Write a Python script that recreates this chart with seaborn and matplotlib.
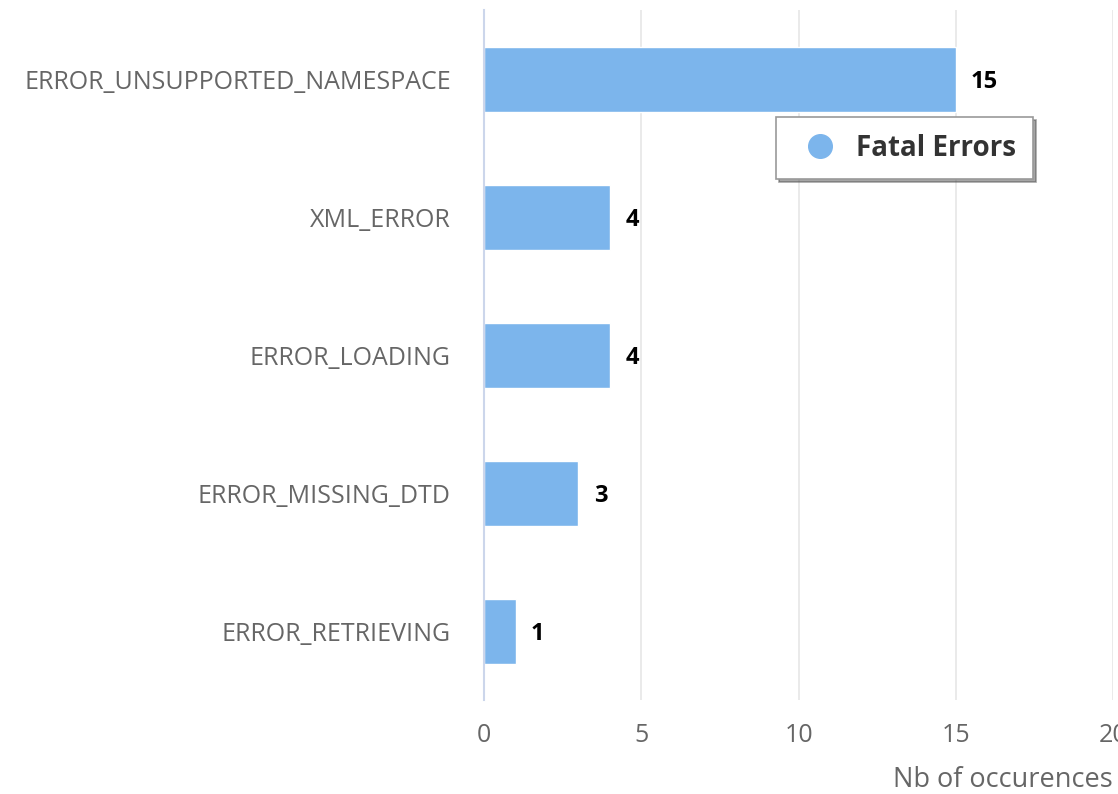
import pandas as pd
import matplotlib
matplotlib.use('Agg')
import matplotlib.pyplot as plt
import seaborn as sns
from matplotlib.lines import Line2D

# Data
error_types = ['ERROR_UNSUPPORTED_NAMESPACE', 'XML_ERROR', 'ERROR_LOADING',
               'ERROR_MISSING_DTD', 'ERROR_RETRIEVING']
occurrences = [15, 4, 4, 3, 1]

data = pd.DataFrame({'Error': error_types, 'Count': occurrences})

sns.set_style('white')
plt.rcParams['font.family'] = ['Open Sans', 'DejaVu Sans']

fig = plt.figure(figsize=(11.18, 7.94), dpi=100)
ax = fig.add_axes([0.433, 0.118, 0.5625, 0.869])

sns.barplot(data=data, x='Count', y='Error', color='#7cb5ec', width=0.47,
            saturation=1, orient='h', ax=ax)

# value labels at end of bars
for bar, val in zip(ax.patches, occurrences):
    ax.annotate(str(val), (bar.get_width(), bar.get_y() + bar.get_height() / 2),
                xytext=(11, -2), textcoords='offset points', va='center',
                ha='left', fontsize=17, fontweight='bold', color='#000000')

ax.set_xlim(0, 20)
ax.set_xticks([0, 5, 10, 15, 20])
ax.grid(axis='x', color='#e6e6e6', linewidth=1.2)
ax.grid(axis='y', visible=False)
ax.set_axisbelow(True)
for side in ['top', 'right', 'bottom']:
    ax.spines[side].set_visible(False)
ax.spines['left'].set_color('#ccd6eb')
ax.spines['left'].set_linewidth(1.5)

ax.tick_params(axis='y', length=0, pad=24, labelsize=18, labelcolor='#666666')
ax.tick_params(axis='x', length=0, pad=16, labelsize=18, labelcolor='#666666')
ax.set_ylabel('')
ax.set_xlabel('Nb of occurences', fontsize=19.5, color='#666666')
ax.xaxis.set_label_coords(1.0, -0.095)
ax.xaxis.label.set_horizontalalignment('right')

handle = Line2D([], [], marker='o', linestyle='', markersize=17,
                markerfacecolor='#7cb5ec', markeredgecolor='#7cb5ec')
leg = fig.legend([handle], ['Fatal Errors'], loc='upper left',
                 bbox_to_anchor=(762 / 1118, 1 - 103 / 794), frameon=True,
                 fancybox=False, shadow=True, prop={'size': 20, 'weight': 'bold'},
                 handletextpad=0.3, borderpad=0.6, labelcolor='#333333')
leg.get_frame().set_edgecolor('#999999')
leg.get_frame().set_linewidth(1.2)

fig.savefig('out.png', dpi=100)
